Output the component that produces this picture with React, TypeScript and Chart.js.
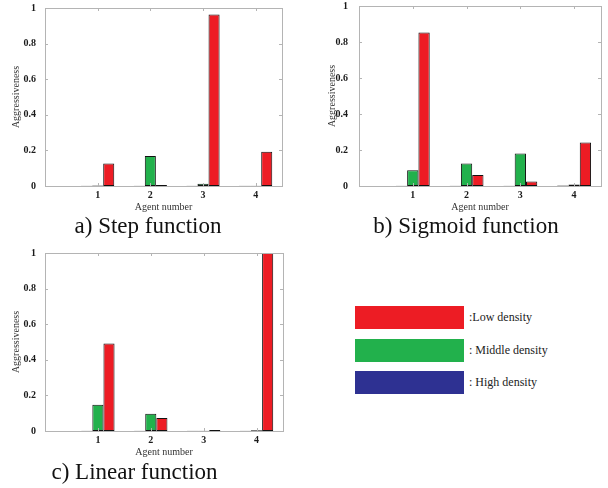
import React, { useEffect, useRef } from 'react';
import { Chart, registerables } from 'chart.js';
Chart.register(...registerables);

const agents = [1, 2, 3, 4];
const xTickValues = [1, 2, 3, 4];
const yTickValues = [0, 0.2, 0.4, 0.6, 0.8, 1];
const seriesLabels = ['High density', 'Middle density', 'Low density'];

const stepHigh = [0.001, 0.001, 0.001, 0.001];
const stepMiddle = [0.003, 0.168, 0.012, 0.002];
const stepLow = [0.126, 0.005, 0.963, 0.192];

const sigmoidHigh = [0.001, 0.001, 0.001, 0.003];
const sigmoidMiddle = [0.088, 0.125, 0.18, 0.008];
const sigmoidLow = [0.853, 0.061, 0.025, 0.241];

const linearHigh = [0.001, 0.001, 0.001, 0.001];
const linearMiddle = [0.148, 0.097, 0.002, 0.004];
const linearLow = [0.491, 0.073, 0.005, 1.0];

const legendTexts = [':Low density', ': Middle density', ': High density'];

const SERIF = "'Liberation Serif', 'Times New Roman', serif";
const COLORS = { high: '#2E3192', middle: '#22B14C', low: '#ED1C24' };

const boxPlugin = {
  id: 'matlabBox',
  afterDatasetsDraw(chart: any) {
    const { ctx, chartArea } = chart;
    const { left, right, top, bottom } = chartArea;
    const xs = chart.scales.x;
    const ys = chart.scales.y;
    ctx.save();
    ctx.strokeStyle = '#b4b4b4';
    ctx.lineWidth = 1;
    ctx.strokeRect(Math.round(left) + 0.5, Math.round(top) + 0.5, Math.round(right - left), Math.round(bottom - top));
    ctx.beginPath();
    xTickValues.forEach((v) => {
      const px = Math.round(xs.getPixelForValue(v)) + 0.5;
      ctx.moveTo(px, bottom);
      ctx.lineTo(px, bottom - 3);
      ctx.moveTo(px, top);
      ctx.lineTo(px, top + 3);
    });
    yTickValues.forEach((v) => {
      const py = Math.round(ys.getPixelForValue(v)) + 0.5;
      ctx.moveTo(left, py);
      ctx.lineTo(left + 3, py);
      ctx.moveTo(right, py);
      ctx.lineTo(right - 3, py);
    });
    ctx.stroke();
    ctx.restore();
  },
};

type PanelProps = {
  high: number[];
  middle: number[];
  low: number[];
  left: number;
  top: number;
  width: number;
  height: number;
  pad: { left: number; right: number; top: number; bottom: number };
  yWidth: number;
  yTickPad: number;
};

function Panel(p: PanelProps) {
  const ref = useRef<HTMLCanvasElement | null>(null);
  useEffect(() => {
    if (!ref.current) return;
    const mk = (label: string, vals: number[], color: string) => ({
      label,
      data: agents.map((a, i) => ({ x: a, y: vals[i] })),
      backgroundColor: color,
      borderColor: '#111',
      borderWidth: 1,
      borderSkipped: false,
      categoryPercentage: 0.63,
      barPercentage: 1,
    });
    const chart = new Chart(ref.current, {
      type: 'bar',
      data: {
        datasets: [
          mk(seriesLabels[0], p.high, COLORS.high),
          mk(seriesLabels[1], p.middle, COLORS.middle),
          mk(seriesLabels[2], p.low, COLORS.low),
        ],
      },
      options: {
        animation: false,
        responsive: false,
        maintainAspectRatio: false,
        layout: { padding: p.pad },
        plugins: { legend: { display: false }, tooltip: { enabled: false } },
        scales: {
          x: {
            type: 'linear',
            min: 0,
            max: 4.5,
            offset: false,
            grid: { display: false, drawTicks: false, offset: false },
            border: { display: false },
            afterBuildTicks: (s: any) => {
              s.ticks = xTickValues.map((v) => ({ value: v }));
            },
            afterFit: (s: any) => {
              s.height = 27;
              s.paddingLeft = 0;
              s.paddingRight = 0;
            },
            ticks: {
              padding: 3,
              color: '#1a1a1a',
              font: { family: SERIF, size: 10, weight: 'bold' },
              callback: (v: any) => String(v),
            },
            title: {
              display: true,
              text: 'Agent number',
              color: '#333',
              font: { family: SERIF, size: 10 },
              padding: { top: 0, bottom: 0 },
            },
          },
          y: {
            type: 'linear',
            min: 0,
            max: 1,
            grid: { display: false, drawTicks: false },
            border: { display: false },
            afterBuildTicks: (s: any) => {
              s.ticks = yTickValues.map((v) => ({ value: v }));
            },
            afterFit: (s: any) => {
              s.width = p.yWidth;
              s.paddingTop = 0;
              s.paddingBottom = 0;
            },
            ticks: {
              padding: p.yTickPad,
              color: '#1a1a1a',
              font: { family: SERIF, size: 10, weight: 'bold' },
              callback: (v: any) => String(v),
            },
            title: {
              display: true,
              text: 'Aggressiveness',
              color: '#333',
              font: { family: SERIF, size: 10 },
              padding: { top: 0, bottom: 0 },
            },
          },
        },
      } as any,
      plugins: [boxPlugin],
    });
    return () => chart.destroy();
  }, []);
  return (
    <canvas
      ref={ref}
      width={p.width}
      height={p.height}
      style={{ position: 'absolute', left: p.left, top: p.top, width: p.width, height: p.height }}
    />
  );
}

const titleStyle = (center: number, top: number): React.CSSProperties => ({
  position: 'absolute',
  left: center - 150,
  width: 300,
  top,
  textAlign: 'center',
  fontFamily: SERIF,
  fontSize: 23,
  lineHeight: '23px',
  color: '#111',
  whiteSpace: 'nowrap',
});

export default function App() {
  const legendColors = [COLORS.low, COLORS.middle, COLORS.high];
  const legendTops = [306, 339, 371];
  return (
    <div style={{ position: 'absolute', left: 0, top: 0, width: 608, height: 488, background: '#fff', overflow: 'hidden' }}>
      <Panel
        high={stepHigh}
        middle={stepMiddle}
        low={stepLow}
        left={0}
        top={0}
        width={300}
        height={240}
        pad={{ left: 10, right: 18, top: 8, bottom: 27 }}
        yWidth={35}
        yTickPad={9}
      />
      <Panel
        high={sigmoidHigh}
        middle={sigmoidMiddle}
        low={sigmoidLow}
        left={300}
        top={0}
        width={308}
        height={240}
        pad={{ left: 26, right: 7, top: 6, bottom: 27 }}
        yWidth={33}
        yTickPad={11}
      />
      <Panel
        high={linearHigh}
        middle={linearMiddle}
        low={linearLow}
        left={0}
        top={240}
        width={300}
        height={248}
        pad={{ left: 10, right: 17, top: 13, bottom: 30 }}
        yWidth={35}
        yTickPad={9}
      />
      <div style={titleStyle(148, 214)}>a) Step function</div>
      <div style={titleStyle(466, 214)}>b) Sigmoid function</div>
      <div style={titleStyle(134.5, 460)}>c) Linear function</div>
      {legendTexts.map((t, i) => (
        <React.Fragment key={t}>
          <div
            style={{
              position: 'absolute',
              left: 355,
              top: legendTops[i],
              width: 109,
              height: 23,
              background: legendColors[i],
            }}
          />
          <div
            style={{
              position: 'absolute',
              left: 469,
              top: legendTops[i],
              height: 23,
              lineHeight: '23px',
              fontFamily: SERIF,
              fontSize: 12,
              color: '#222',
              whiteSpace: 'nowrap',
            }}
          >
            {t}
          </div>
        </React.Fragment>
      ))}
    </div>
  );
}
